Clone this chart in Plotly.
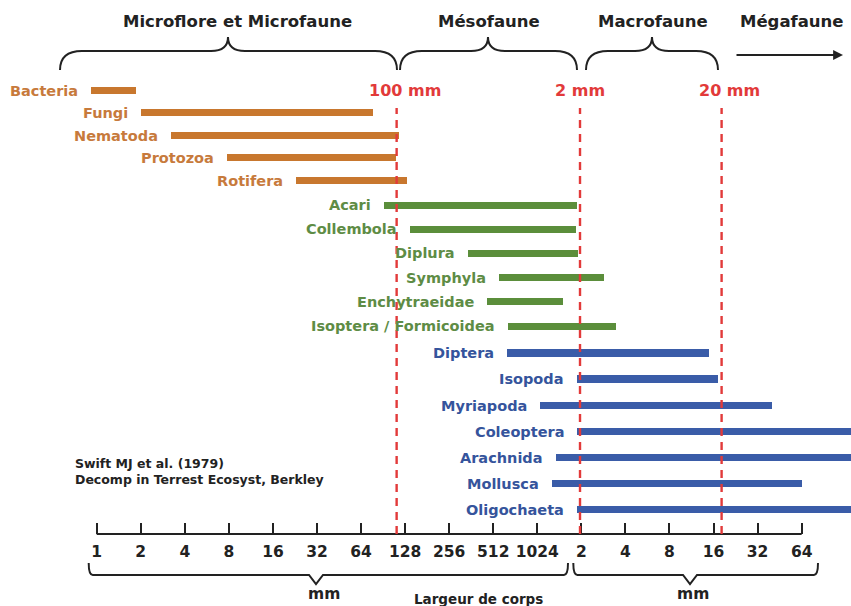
import numpy as np
import plotly.graph_objects as go

W, H = 851, 606

# ---------------- data (body width, µm) ----------------
micro_names = ["Bacteria", "Fungi", "Nematoda", "Protozoa", "Rotifera"]
micro_min_um = [0.91, 2.0, 3.2, 7.8, 23]
micro_max_um = [1.85, 77, 116, 111, 132]

meso_names = ["Acari", "Collembola", "Diplura", "Symphyla", "Enchytraeidae",
              "Isoptera / Formicoidea"]
meso_min_um = [92, 138, 345, 560, 465, 648]
meso_max_um = [1900, 1880, 1950, 2940, 1540, 3540]

macro_names = ["Diptera", "Isopoda", "Myriapoda", "Coleoptera", "Arachnida",
               "Mollusca", "Oligochaeta"]
macro_min_um = [640, 1900, 1070, 1920, 1370, 1300, 1920]
macro_max_um = [15300, 17700, 41000, 200000, 200000, 65500, 200000]

tick_um = [2 ** i for i in range(17)]
tick_text = ["1", "2", "4", "8", "16", "32", "64", "128", "256", "512", "1024",
             "2", "4", "8", "16", "32", "64"]

boundary_um = [112, 2005, 18600]
boundary_text = ["100 mm", "2 mm", "20 mm"]

header_text = ["Microflore et Microfaune", "Mésofaune", "Macrofaune", "Mégafaune"]
source_text = ["Swift MJ et al. (1979)", "Decomp in Terrest Ecosyst, Berkley"]

# ---------------- styling / layout ----------------
ORANGE, ORANGE_T = "#C8772E", "#C77A3C"
GREEN, GREEN_T = "#5B8E3B", "#5E8C45"
BLUE, BLUE_T = "#3A5CA8", "#35549C"
RED = "#E23A3A"
INK = "#222222"
FONT = "DejaVu Sans"

MB = 72
PH = H - MB
PX0, PPO = 96.7, 44.06  # pixel of 1 µm, pixels per octave
x_range = [-PX0 / PPO, (W - PX0) / PPO]


def PXp(px):
    return px / W


def PYp(py):
    return 1 - py / PH


def P(px, py):
    return f"{PXp(px):.5f},{PYp(py):.5f}"


def dom(top, bottom):
    return [PYp(bottom), PYp(top)]


groups = [
    (micro_names, micro_min_um, micro_max_um, ORANGE, ORANGE_T, "y", dom(79.45, 191.95), 7 / 22.5),
    (meso_names, meso_min_um, meso_max_um, GREEN, GREEN_T, "y2", dom(192.9, 338.1), 7 / 24.2),
    (macro_names, macro_min_um, macro_max_um, BLUE, BLUE_T, "y3", dom(340.25, 523.05), 7.5 / 26.1),
]

fig = go.Figure()
annotations = []
layout_axes = {}
for i, (names, mn, mx, col, tcol, ya, dm, wd) in enumerate(groups):
    lo = np.log2(np.array(mn, dtype=float))
    hi = np.log2(np.array(mx, dtype=float))
    fig.add_trace(go.Bar(
        orientation="h", y=names, x=hi - lo, base=lo,
        marker=dict(color=col, line=dict(width=0)), width=wd,
        xaxis="x", yaxis=ya, hoverinfo="skip", showlegend=False,
    ))
    key = "yaxis" if i == 0 else f"yaxis{i + 1}"
    layout_axes[key] = dict(domain=dm, type="category", categoryorder="array",
                            categoryarray=names, range=[len(names) - 0.5, -0.5],
                            visible=False, anchor="x", fixedrange=True)
    for n, l in zip(names, lo):
        annotations.append(dict(
            x=l, y=n, xref="x", yref=ya, text=n, showarrow=False,
            xanchor="right", yanchor="middle", xshift=-11,
            font=dict(family=FONT, size=14.5, color=tcol, weight="bold"),
        ))

# red boundary labels
label_shift = [8, 0, 8]
for b, t, s in zip(boundary_um, boundary_text, label_shift):
    annotations.append(dict(
        x=np.log2(b), y=PYp(90.7), xref="x", yref="paper", text=t, showarrow=False,
        xanchor="center", yanchor="middle", xshift=s,
        font=dict(family=FONT, size=16, color=RED, weight="bold"),
    ))

# headers
header_cx = [238, 489.5, 652.5, 792]
for t, cx in zip(header_text, header_cx):
    annotations.append(dict(
        x=PXp(cx), y=PYp(22), xref="paper", yref="paper", text=t, showarrow=False,
        xanchor="center", yanchor="middle",
        font=dict(family=FONT, size=16.5, color=INK, weight="bold"),
    ))

# megafaune arrow
annotations.append(dict(
    x=PXp(843), y=PYp(55), xref="paper", yref="paper", ax=-108, ay=0,
    text="", showarrow=True, arrowhead=2, arrowsize=1.1, arrowwidth=1.8,
    arrowcolor=INK,
))

# source note
annotations.append(dict(
    x=PXp(72.7), y=PYp(471.3), xref="paper", yref="paper",
    text="<br>".join(source_text), showarrow=False, align="left",
    xanchor="left", yanchor="middle",
    font=dict(family=FONT, size=12.5, color=INK, weight="bold"),
))

# bottom labels
for t, cx, cy, fs in [("mm", 324, 594, 15.5), ("mm", 693, 594, 15.5),
                      ("Largeur de corps", 478, 599, 13.5)]:
    annotations.append(dict(
        x=PXp(cx), y=PYp(cy), xref="paper", yref="paper", text=t, showarrow=False,
        xanchor="center", yanchor="middle",
        font=dict(family=FONT, size=fs, color=INK, weight="bold"),
    ))

shapes = []
# axis line
shapes.append(dict(type="line", xref="x", yref="paper",
                   x0=np.log2(tick_um[0]), x1=np.log2(tick_um[-1]), y0=0, y1=0,
                   line=dict(color=INK, width=2)))
# red dashed boundaries
for b in boundary_um:
    shapes.append(dict(type="line", xref="x", yref="paper",
                       x0=np.log2(b), x1=np.log2(b), y0=0, y1=PYp(108),
                       line=dict(color=RED, width=2.4, dash="8px,6px")))


def top_brace(x0, xa, x1, yE=70, yH=51, yA=37, r=22, ra=17):
    return (f"M {P(x0, yE)} Q {P(x0, yH)} {P(x0 + r, yH)} L {P(xa - ra, yH)} "
            f"Q {P(xa, yH)} {P(xa, yA)} Q {P(xa, yH)} {P(xa + ra, yH)} "
            f"L {P(x1 - r, yH)} Q {P(x1, yH)} {P(x1, yE)}")


def bottom_brace(x0, xa, x1, yE=563, yH=575, yA=584, r=4, ra=7):
    return (f"M {P(x0, yE)} Q {P(x0, yH)} {P(x0 + r, yH)} L {P(xa - ra, yH)} "
            f"L {P(xa, yA)} L {P(xa + ra, yH)} "
            f"L {P(x1 - r, yH)} Q {P(x1, yH)} {P(x1, yE)}")


for x0, xa, x1 in [(60, 228, 397), (400, 488, 577), (586, 652, 718)]:
    shapes.append(dict(type="path", xref="paper", yref="paper",
                       path=top_brace(x0, xa, x1), line=dict(color=INK, width=2)))
for x0, xa, x1 in [(88.7, 316, 568), (573.3, 690, 818)]:
    shapes.append(dict(type="path", xref="paper", yref="paper",
                       path=bottom_brace(x0, xa, x1), line=dict(color=INK, width=2)))

fig.update_layout(
    width=W, height=H,
    margin=dict(l=0, r=0, t=0, b=MB),
    paper_bgcolor="white", plot_bgcolor="white",
    showlegend=False, bargap=0,
    xaxis=dict(range=x_range, tickvals=np.log2(tick_um), ticktext=tick_text,
               ticks="inside", ticklen=11, tickwidth=1.5, tickcolor=INK,
               showline=False, showgrid=False, zeroline=False,
               anchor="free", position=0, ticklabelstandoff=6,
               tickfont=dict(family=FONT, size=15.5, color=INK, weight="bold"),
               fixedrange=True),
    annotations=annotations,
    shapes=shapes,
    **layout_axes,
)

fig.write_html(
    "out.html",
    config={"displayModeBar": False},
    post_script="document.body.style.margin='0px';document.body.style.overflow='hidden';",
)
